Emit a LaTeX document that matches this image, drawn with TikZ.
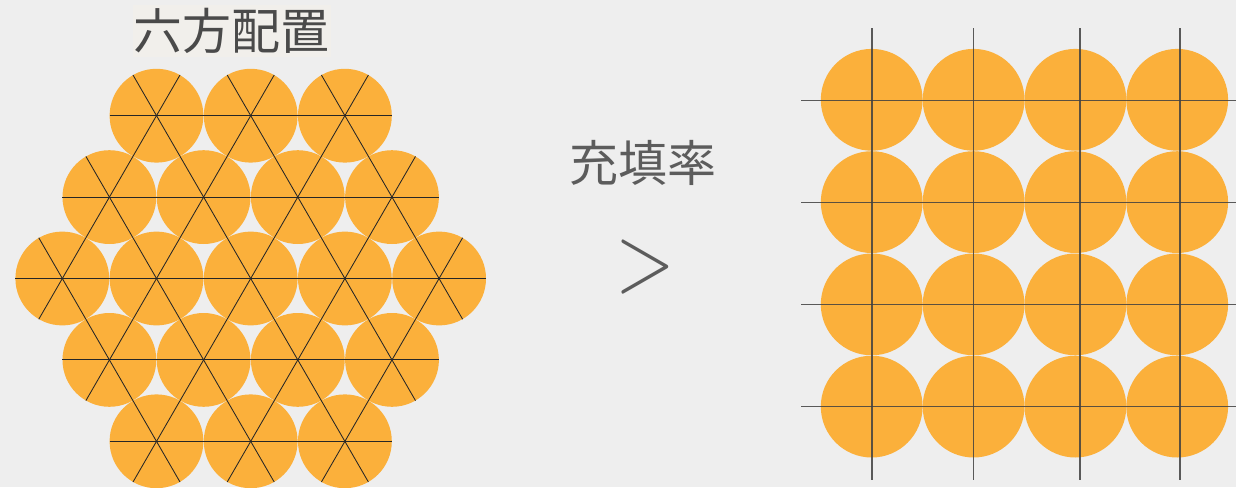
\documentclass[tikz,border=0pt]{standalone}
\usepackage{fontspec}
\newfontfamily\cjk{Noto Sans CJK JP}
\definecolor{bg}{HTML}{EEEEEE}
\definecolor{dot}{HTML}{FBB03B}
\definecolor{ink}{HTML}{4A4A4A}
\definecolor{ttlbg}{HTML}{F4F1EA}
\begin{document}
\begin{tikzpicture}[x=1pt,y=-1pt,
  ball/.style={fill=dot},
  hexline/.style={draw=black!85, line width=0.85pt},
  sqline/.style={draw=black!75, line width=1.2pt, opacity=0.85},
  cjklabel/.style={text=ink, inner sep=0pt, font=\cjk\fontsize{49}{49}\selectfont}]
\fill[bg] (0,0) rectangle (1236,487);
\useasboundingbox (0,0) rectangle (1236,487);

% ---- hexagonal packing ----
\def\ox{250.7}\def\oy{278.5}\def\d{94.2}\def\h{81.4}\def\r{46.9}\def\e{47}
\foreach \j in {-2,...,2}{
  \pgfmathtruncatemacro\ia{max(-2,-2-\j)}
  \pgfmathtruncatemacro\ib{min(2,2-\j)}
  \foreach \i in {\ia,...,\ib}{
    \fill[ball] ({\ox+\d*(\i+\j/2)},{\oy-\h*\j}) circle (\r);
  }
}
% horizontal lines
\foreach \j in {-2,...,2}{
  \pgfmathtruncatemacro\ia{max(-2,-2-\j)}
  \pgfmathtruncatemacro\ib{min(2,2-\j)}
  \draw[hexline] ({\ox+\d*(\ia+\j/2)-\e},{\oy-\h*\j}) -- ({\ox+\d*(\ib+\j/2)+\e},{\oy-\h*\j});
}
% 60 degree lines (i constant)
\foreach \i in {-2,...,2}{
  \pgfmathtruncatemacro\ja{max(-2,-2-\i)}
  \pgfmathtruncatemacro\jb{min(2,2-\i)}
  \draw[hexline] ({\ox+\d*(\i+\ja/2)-0.5*\e},{\oy-\h*\ja+0.866*\e}) -- ({\ox+\d*(\i+\jb/2)+0.5*\e},{\oy-\h*\jb-0.866*\e});
}
% 120 degree lines (i+j constant)
\foreach \k in {-2,...,2}{
  \pgfmathtruncatemacro\ja{max(-2,\k-2)}
  \pgfmathtruncatemacro\jb{min(2,\k+2)}
  \draw[hexline] ({\ox+\d*(\k-\ja+\ja/2)+0.5*\e},{\oy-\h*\ja+0.866*\e}) -- ({\ox+\d*(\k-\jb+\jb/2)-0.5*\e},{\oy-\h*\jb-0.866*\e});
}

% ---- square packing ----
\foreach \cx in {871.7,973.6,1075.4,1177.2}{
  \foreach \cy in {99.8,202.1,304.4,406.6}{
    \fill[ball] (\cx,\cy) circle (50.9);
  }
}
\foreach \vx in {872,973.7,1080,1180}{
  \draw[sqline] (\vx,28.3) -- (\vx,480);
}
\foreach \hy in {100,202.3,304.6,406.7}{
  \draw[sqline, line width=1pt] (801,\hy) -- (1236,\hy);
}

% ---- texts ----
\node[cjklabel, anchor=base, fill=ttlbg, fill opacity=0.6, text opacity=1, inner ysep=3pt, inner xsep=1pt] (title) at (231.5,49.7) {六方配置};
\node[cjklabel, anchor=base, text=ink!90] (rate) at (642.5,181.6) {充填率};
\node[text=ink!90, inner sep=0pt, xscale=0.8, font=\fontsize{98}{98}\selectfont\addfontfeatures{FakeBold=3}] (gt) at (645.5,266.7) {>};
\end{tikzpicture}
\end{document}
